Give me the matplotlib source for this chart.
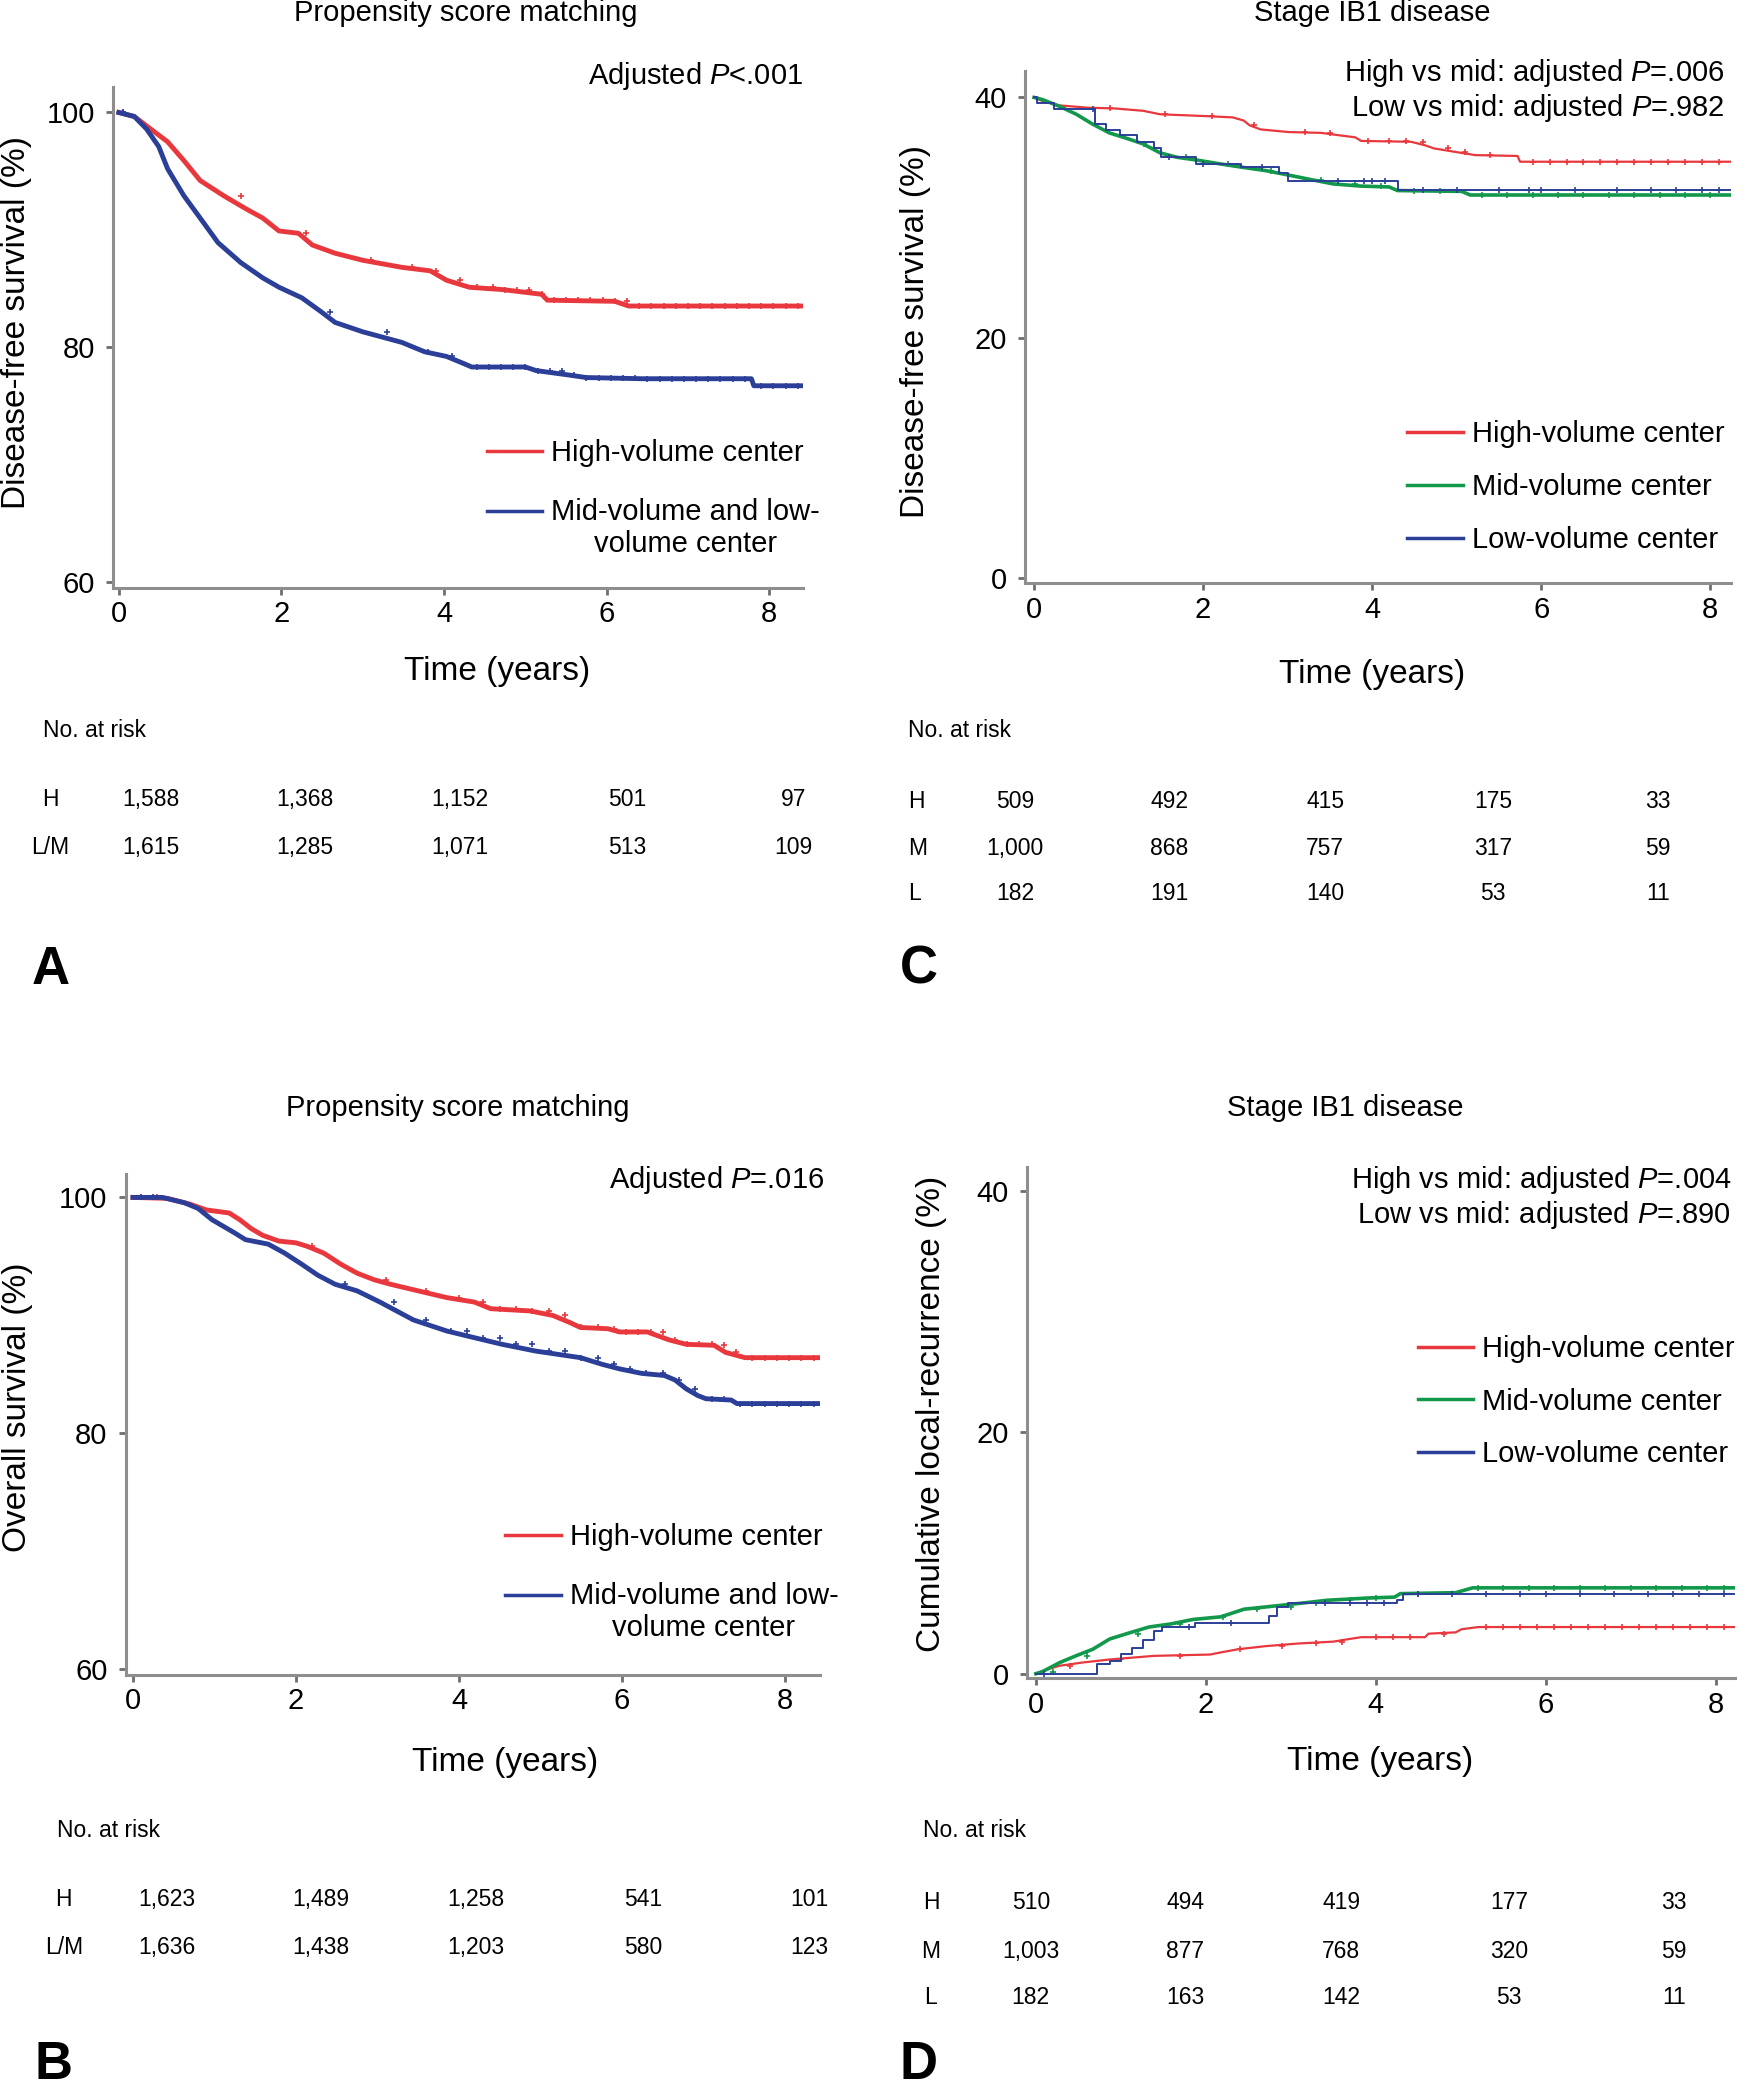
import numpy as np
import matplotlib
matplotlib.use("Agg")
import matplotlib.pyplot as plt

plt.rcParams['font.family'] = ['Liberation Sans', 'DejaVu Sans']
plt.rcParams['mathtext.fontset'] = 'custom'
plt.rcParams['mathtext.rm'] = 'Liberation Sans'
plt.rcParams['mathtext.it'] = 'Liberation Sans:italic'

RED = '#e8383d'
BLUE = '#2b3f98'
GREEN = '#12984a'
GREY = '#8e8e8e'

# ---- Panel A: disease-free survival, propensity score matching ----
a_high_t = [0, 0.19, 0.39, 0.6, 0.8, 1.0, 1.29, 1.56, 1.77, 1.97, 2.21, 2.38, 2.66, 3.0, 3.48, 3.83,
            4.03, 4.31, 4.72, 5.2, 5.27, 6.1, 6.27, 8.43]
a_high_s = [100, 99.66, 98.6, 97.5, 95.9, 94.2, 92.9, 91.8, 91.0, 89.9, 89.7, 88.7, 88.0, 87.4, 86.8, 86.5,
            85.7, 85.1, 84.9, 84.5, 84.0, 83.9, 83.5, 83.5]
a_low_t = [0, 0.19, 0.34, 0.49, 0.6, 0.8, 1.0, 1.22, 1.5, 1.77, 1.97, 2.25, 2.49, 2.66, 3.0, 3.48, 3.76,
           4.03, 4.24, 4.34, 5.0, 5.13, 5.55, 5.75, 6.44, 7.78, 7.81, 8.43]
a_low_s = [100, 99.66, 98.6, 97.1, 95.2, 92.9, 91.0, 88.9, 87.2, 85.9, 85.1, 84.2, 83.0, 82.1, 81.3, 80.4, 79.6,
           79.2, 78.6, 78.3, 78.3, 78.0, 77.6, 77.4, 77.3, 77.3, 76.7, 76.7]
a_high_cens = [0.05, 1.5, 2.3, 3.1, 3.6, 3.9, 4.2, 4.4, 4.6, 4.75, 4.9, 5.05, 5.2, 5.35, 5.5, 5.65, 5.8,
               5.95, 6.1, 6.25, 6.4, 6.55, 6.7, 6.85, 7.0, 7.15, 7.3, 7.45, 7.6, 7.75, 7.9, 8.05, 8.2, 8.35]
a_low_cens = [0.05, 2.6, 3.3, 3.8, 4.1, 4.4, 4.55, 4.7, 4.85, 5.0, 5.15, 5.3, 5.45, 5.6, 5.75, 5.9, 6.05,
              6.2, 6.35, 6.5, 6.65, 6.8, 6.95, 7.1, 7.25, 7.4, 7.55, 7.7, 7.9, 8.05, 8.2, 8.35]
a_pval = 'Adjusted $P$<.001'
a_risk_h = ['1,588', '1,368', '1,152', '501', '97']
a_risk_lm = ['1,615', '1,285', '1,071', '513', '109']

# ---- Panel B: overall survival, propensity score matching ----
b_high_t = [0, 0.42, 0.70, 0.90, 1.18, 1.31, 1.45, 1.59, 1.79, 2.0, 2.14, 2.34, 2.55, 2.75, 2.96, 3.16,
            3.50, 3.85, 4.19, 4.39, 4.87, 5.15, 5.35, 5.49, 5.83, 5.97, 6.31, 6.58, 6.79, 7.13, 7.27,
            7.51, 8.43]
b_high_s = [100, 99.92, 99.43, 98.94, 98.68, 98.11, 97.36, 96.79, 96.30, 96.15, 95.85, 95.28, 94.34,
            93.58, 93.02, 92.64, 92.08, 91.51, 91.13, 90.57, 90.38, 90.0, 89.43, 88.98, 88.87, 88.60,
            88.60, 87.92, 87.55, 87.47, 86.87, 86.42, 86.42]
b_low_t = [0, 0.36, 0.63, 0.80, 0.97, 1.25, 1.38, 1.66, 1.86, 2.07, 2.27, 2.48, 2.75, 3.03, 3.44, 3.85,
           4.19, 4.53, 4.94, 5.49, 5.76, 5.97, 6.24, 6.52, 6.65, 6.79, 6.93, 7.03, 7.34, 7.41, 8.43]
b_low_s = [100, 100, 99.55, 99.06, 98.11, 96.98, 96.42, 96.04, 95.28, 94.34, 93.40, 92.64, 92.08, 91.13,
           89.62, 88.68, 88.11, 87.55, 86.98, 86.42, 85.85, 85.47, 85.09, 84.91, 84.53, 83.77, 83.21,
           82.94, 82.83, 82.53, 82.53]
b_high_cens = [0.1, 0.3, 2.2, 3.1, 3.6, 4.0, 4.3, 4.5, 4.7, 4.9, 5.1, 5.3, 5.5, 5.7, 5.9, 6.05, 6.2,
               6.35, 6.5, 6.65, 6.8, 6.95, 7.1, 7.25, 7.4, 7.6, 7.75, 7.9, 8.05, 8.2, 8.35]
b_low_cens = [0.1, 0.25, 2.6, 3.2, 3.6, 3.9, 4.1, 4.3, 4.5, 4.7, 4.9, 5.1, 5.3, 5.5, 5.7, 5.9, 6.1, 6.3,
              6.5, 6.7, 6.9, 7.1, 7.25, 7.45, 7.6, 7.75, 7.9, 8.05, 8.2, 8.35]
b_pval = 'Adjusted $P$=.016'
b_risk_h = ['1,623', '1,489', '1,258', '541', '101']
b_risk_lm = ['1,636', '1,438', '1,203', '580', '123']

# ---- Panel C: disease-free survival, stage IB1 ----
c_high_t = [0, 0.10, 0.30, 0.63, 0.96, 1.29, 1.49, 2.02, 2.35, 2.48, 2.55, 2.68, 3.01, 3.40, 3.60, 3.80,
            3.87, 4.46, 4.63, 4.73, 4.99, 5.22, 5.72, 5.75, 8.26]
c_high_s = [40, 39.70, 39.34, 39.15, 39.08, 38.89, 38.60, 38.45, 38.34, 38.08, 37.68, 37.34, 37.12, 37.05,
            36.86, 36.68, 36.38, 36.31, 36.01, 35.76, 35.46, 35.20, 35.13, 34.65, 34.65]
c_mid_t = [0, 0.10, 0.30, 0.50, 0.69, 0.89, 1.09, 1.29, 1.49, 1.69, 1.95, 2.21, 2.48, 2.74, 3.01, 3.27,
           3.54, 3.87, 4.20, 4.30, 5.06, 5.16, 8.26]
c_mid_s = [40, 39.82, 39.26, 38.60, 37.79, 37.05, 36.61, 36.13, 35.39, 35.02, 34.76, 34.46, 34.17, 33.91,
           33.54, 33.17, 32.80, 32.62, 32.55, 32.25, 32.18, 31.88, 31.88]
c_low_t = [0, 0.03, 0.23, 0.72, 0.85, 1.02, 1.22, 1.42, 1.5, 1.92, 2.45, 2.9, 3.0, 4.3, 8.26]
c_low_s = [40, 39.56, 39.08, 37.8, 37.3, 36.86, 36.31, 35.76, 35.02, 34.46, 34.2, 33.73, 33.06, 32.32, 32.32]
c_high_cens = [0.9, 1.55, 2.1, 2.6, 3.2, 3.5, 3.95, 4.2, 4.4, 4.6, 4.9, 5.1, 5.4, 5.9, 6.1, 6.3, 6.5, 6.7,
               6.9, 7.1, 7.3, 7.5, 7.7, 7.9, 8.1]
c_mid_cens = [1.3, 1.8, 2.3, 2.8, 3.4, 3.8, 4.1, 4.5, 4.8, 5.3, 5.6, 5.9, 6.2, 6.5, 6.8, 7.1, 7.4, 7.7, 8.0]
c_low_cens = [0.7, 1.6, 2.0, 2.7, 3.6, 3.9, 4.0, 4.15, 4.6, 5.0, 5.5, 5.85, 6.0, 6.4, 6.9, 7.3, 7.6, 7.9, 8.1]
c_pvals = ['High vs mid: adjusted $P$=.006', 'Low vs mid: adjusted $P$=.982']
c_risk_h = ['509', '492', '415', '175', '33']
c_risk_m = ['1,000', '868', '757', '317', '59']
c_risk_l = ['182', '191', '140', '53', '11']

# ---- Panel D: cumulative local recurrence, stage IB1 ----
d_high_t = [0, 0.14, 0.28, 0.54, 0.87, 1.39, 2.05, 2.18, 2.38, 2.71, 3.10, 3.50, 3.69, 3.83, 4.58, 4.62,
            4.94, 5.01, 5.21, 8.23]
d_high_s = [0, 0.37, 0.66, 0.92, 1.18, 1.48, 1.59, 1.77, 2.03, 2.29, 2.51, 2.66, 2.88, 3.03, 3.03, 3.32,
            3.43, 3.69, 3.87, 3.87]
d_mid_t = [0, 0.08, 0.28, 0.47, 0.67, 0.87, 1.07, 1.33, 1.59, 1.85, 2.18, 2.45, 2.71, 3.10, 3.43, 3.89,
           4.22, 4.29, 4.94, 5.14, 8.23]
d_mid_s = [0, 0.18, 0.92, 1.48, 2.03, 2.88, 3.32, 3.87, 4.13, 4.50, 4.72, 5.35, 5.54, 5.83, 6.09, 6.27,
           6.35, 6.64, 6.72, 7.12, 7.12]
d_low_t = [0, 0.72, 0.87, 1.0, 1.13, 1.26, 1.39, 1.49, 1.87, 2.74, 2.84, 2.97, 4.25, 4.32, 8.23]
d_low_s = [0, 0.81, 1.03, 1.66, 2.14, 2.77, 3.51, 3.87, 4.24, 4.80, 5.54, 5.90, 6.09, 6.64, 6.64]
d_high_cens = [0.4, 1.0, 1.7, 2.4, 2.9, 3.3, 3.6, 4.0, 4.2, 4.4, 4.8, 5.3, 5.5, 5.7, 5.9, 6.1, 6.3, 6.5,
               6.7, 6.9, 7.1, 7.3, 7.5, 7.7, 7.9, 8.1]
d_mid_cens = [0.2, 0.6, 1.2, 1.7, 2.2, 2.6, 3.0, 3.3, 3.7, 4.0, 4.5, 5.2, 5.5, 5.8, 6.1, 6.4, 6.7, 7.0,
              7.3, 7.6, 7.9, 8.1]
d_low_cens = [0.1, 1.8, 2.3, 3.4, 3.7, 3.9, 4.1, 4.5, 4.9, 5.3, 5.7, 6.0, 6.4, 6.8, 7.2, 7.5, 7.8, 8.1]
d_pvals = ['High vs mid: adjusted $P$=.004', 'Low vs mid: adjusted $P$=.890']
d_risk_h = ['510', '494', '419', '177', '33']
d_risk_m = ['1,003', '877', '768', '320', '59']
d_risk_l = ['182', '163', '142', '53', '11']

FS = 21
LAB_FS = 24
RISK_FS = 16.5

fig = plt.figure(figsize=(17.5, 20.89), dpi=100)


def step_value(times, surv, t):
    i = np.searchsorted(times, t, side='right') - 1
    return surv[i]


def km_line(ax, times, surv, cens, color, lw, label, steps=False):
    ds = 'steps-post' if steps else 'default'
    line, = ax.plot(times, surv, color=color, lw=lw, drawstyle=ds, label=label)
    cy = [step_value(times, surv, c) for c in cens]
    ax.plot(cens, cy, ls='none', marker='+', ms=5, mew=1.2, color=color)
    return line


def style_axes(ax, xlim, ylim, yticks):
    ax.set_xlim(*xlim)
    ax.set_ylim(*ylim)
    ax.set_xticks([0, 2, 4, 6, 8])
    ax.set_yticks(yticks)
    for s in ['top', 'right']:
        ax.spines[s].set_visible(False)
    for s in ['left', 'bottom']:
        ax.spines[s].set_color(GREY)
        ax.spines[s].set_linewidth(2.2)
    ax.tick_params(direction='out', length=5, width=2, color='#6e6e6e', labelsize=FS)
    ax.tick_params(axis='y', pad=8)
    ax.tick_params(axis='x', pad=4)


def legend(ax, anchor, spacing):
    leg = ax.legend(loc='upper left', bbox_to_anchor=anchor, frameon=False, fontsize=FS,
                    handlelength=1.9, handletextpad=0.3, labelspacing=spacing, borderpad=0,
                    borderaxespad=0)
    for t, h in zip(leg.get_texts(), leg.get_lines()):
        t.set_multialignment('center')
        h.set_linewidth(2.5)
        if '\n' in t.get_text():
            # put the handle next to the first line of a wrapped label
            h.set_ydata(np.asarray(h.get_ydata()) + 0.6 * FS)
    return leg


def risk_table(x_label, x_vals, ys, labels, rows, ha_label='center'):
    for y, lab, row in zip(ys, labels, rows):
        fig.text(x_label, y, lab, fontsize=RISK_FS, ha=ha_label, va='center')
        for x, v in zip(x_vals, row):
            fig.text(x, y, v, fontsize=RISK_FS, ha='center', va='center')


def panel_letter(x, y, s):
    fig.text(x, y, s, fontsize=38, fontweight='bold', ha='center', va='center')


# ---------------- Panel A ----------------
axA = fig.add_axes([0.0648, 0.7186, 0.3943, 0.2399])
km_line(axA, a_high_t, a_high_s, a_high_cens, RED, 3.5, 'High-volume center')
km_line(axA, a_low_t, a_low_s, a_low_cens, BLUE, 3.5, 'Mid-volume and low-\nvolume center')
style_axes(axA, (-0.067, 8.42), (59.47, 102.2), [60, 80, 100])
axA.set_xlabel('Time (years)', fontsize=LAB_FS)
axA.set_ylabel('Disease-free survival (%)', fontsize=LAB_FS)
axA.xaxis.set_label_coords(0.556, -0.136)
axA.yaxis.set_label_coords(-0.118, 0.53)
legend(axA, (0.541, 0.297), 1.05)
fig.text(0.4589, 0.9636, a_pval, fontsize=FS, ha='right', va='center')
fig.text(0.2664, 0.9936, 'Propensity score matching', fontsize=FS, ha='center', va='center')
fig.text(0.0244, 0.6505, 'No. at risk', fontsize=RISK_FS, ha='left', va='center')
risk_table(0.0289, [0.0860, 0.1743, 0.2626, 0.3584, 0.4536], [0.6173, 0.5944], ['H', 'L/M'],
           [a_risk_h, a_risk_lm])
panel_letter(0.0289, 0.5357, 'A')

# ---------------- Panel C ----------------
axC = fig.add_axes([0.5855, 0.7208, 0.4036, 0.2452])
km_line(axC, c_high_t, c_high_s, c_high_cens, RED, 1.6, 'High-volume center')
km_line(axC, c_mid_t, c_mid_s, c_mid_cens, GREEN, 2.6, 'Mid-volume center')
km_line(axC, c_low_t, c_low_s, c_low_cens, BLUE, 1.4, 'Low-volume center', steps=True)
style_axes(axC, (-0.112, 8.245), (-0.44, 42.2), [0, 20, 40])
axC.set_xlabel('Time (years)', fontsize=LAB_FS)
axC.set_ylabel('Disease-free survival (%)', fontsize=LAB_FS)
axC.xaxis.set_label_coords(0.492, -0.148)
axC.yaxis.set_label_coords(-0.133, 0.492)
legend(axC, (0.542, 0.318), 0.85)
fig.text(0.9855, 0.9649, c_pvals[0], fontsize=FS, ha='right', va='center')
fig.text(0.9855, 0.9483, c_pvals[1], fontsize=FS, ha='right', va='center')
fig.text(0.7839, 0.9936, 'Stage IB1 disease', fontsize=FS, ha='center', va='center')
fig.text(0.5190, 0.6505, 'No. at risk', fontsize=RISK_FS, ha='left', va='center')
risk_table(0.5190, [0.5799, 0.6682, 0.7572, 0.8531, 0.9475], [0.6161, 0.5938, 0.5721], ['H', 'M', 'L'],
           [c_risk_h, c_risk_m, c_risk_l], ha_label='left')
panel_letter(0.5251, 0.5357, 'C')

# ---------------- Panel B ----------------
axB = fig.add_axes([0.0718, 0.1983, 0.3968, 0.2398])
km_line(axB, b_high_t, b_high_s, b_high_cens, RED, 3.5, 'High-volume center')
km_line(axB, b_low_t, b_low_s, b_low_cens, BLUE, 3.5, 'Mid-volume and low-\nvolume center')
style_axes(axB, (-0.09, 8.43), (59.55, 102.0), [60, 80, 100])
axB.set_xlabel('Time (years)', fontsize=LAB_FS)
axB.set_ylabel('Overall survival (%)', fontsize=LAB_FS)
axB.xaxis.set_label_coords(0.547, -0.144)
axB.yaxis.set_label_coords(-0.133, 0.534)
legend(axB, (0.547, 0.303), 1.05)
fig.text(0.4711, 0.4349, b_pval, fontsize=FS, ha='right', va='center')
fig.text(0.2618, 0.4694, 'Propensity score matching', fontsize=FS, ha='center', va='center')
fig.text(0.0327, 0.1237, 'No. at risk', fontsize=RISK_FS, ha='left', va='center')
risk_table(0.0365, [0.0951, 0.1834, 0.2717, 0.3676, 0.4627], [0.0906, 0.0676], ['H', 'L/M'],
           [b_risk_h, b_risk_lm])
panel_letter(0.0304, 0.0115, 'B')

# ---------------- Panel D ----------------
axD = fig.add_axes([0.5868, 0.1966, 0.4048, 0.2447])
km_line(axD, d_high_t, d_high_s, d_high_cens, RED, 1.6, 'High-volume center')
km_line(axD, d_mid_t, d_mid_s, d_mid_cens, GREEN, 2.6, 'Mid-volume center')
km_line(axD, d_low_t, d_low_s, d_low_cens, BLUE, 1.4, 'Low-volume center', steps=True)
style_axes(axD, (-0.105, 8.23), (-0.38, 42.0), [0, 20, 40])
axD.set_xlabel('Time (years)', fontsize=LAB_FS)
axD.set_ylabel('Cumulative local-recurrence (%)', fontsize=LAB_FS)
axD.xaxis.set_label_coords(0.499, -0.133)
axD.yaxis.set_label_coords(-0.113, 0.518)
legend(axD, (0.552, 0.672), 0.85)
fig.text(0.9893, 0.4349, d_pvals[0], fontsize=FS, ha='right', va='center')
fig.text(0.9893, 0.4184, d_pvals[1], fontsize=FS, ha='right', va='center')
fig.text(0.7687, 0.4694, 'Stage IB1 disease', fontsize=FS, ha='center', va='center')
fig.text(0.5274, 0.1237, 'No. at risk', fontsize=RISK_FS, ha='left', va='center')
risk_table(0.5320, [0.5890, 0.6773, 0.7664, 0.8623, 0.9566], [0.0893, 0.0657, 0.0440], ['H', 'M', 'L'],
           [d_risk_h, d_risk_m, d_risk_l])
panel_letter(0.5251, 0.0115, 'D')

fig.savefig('out.png', dpi=100)
